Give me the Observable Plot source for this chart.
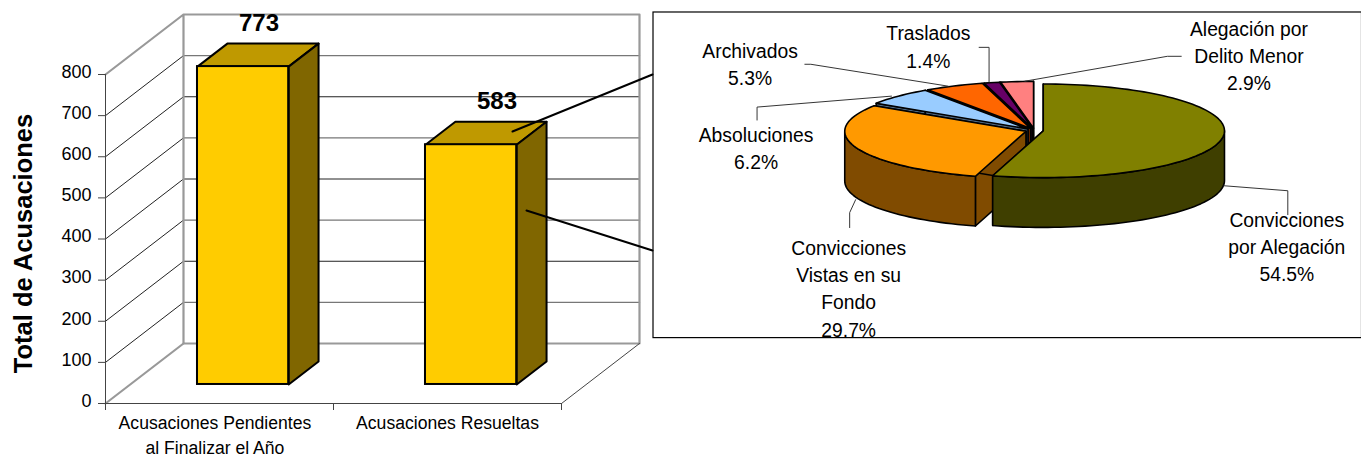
<!DOCTYPE html>
<html><head><meta charset="utf-8">
<script src="https://cdn.jsdelivr.net/npm/d3@7"></script>
<script src="https://cdn.jsdelivr.net/npm/@observablehq/plot@0.6"></script>
<style>
html,body{margin:0;padding:0;background:#fff;overflow:hidden;width:1361px;height:455px}
#bars,#pie{position:absolute}
#bars{left:0;top:0}
#pie{left:652px;top:11px}
svg{display:block}
</style></head><body>
<div id="bars"></div><div id="pie"></div>
<script>
// ---- data ----
const categories = ["Acusaciones Pendientes\nal Finalizar el Año", "Acusaciones Resueltas"];
const totals = [773, 583];
const yTicks = [0,100,200,300,400,500,600,700,800];
const yTitle = "Total de Acusaciones";
const sliceNames = ["Convicciones\npor Alegación","Convicciones\nVistas en su\nFondo","Absoluciones","Archivados","Traslados","Alegación por\nDelito Menor"];
const sliceShares = [54.5,29.7,6.2,5.3,1.4,2.9];

// ---- layout & style ----
const FONT = '"Liberation Sans", Arial, sans-serif';
const barTop="#BF9900", barFront="#FFCC00", barSide="#806600";
const sliceTop=["#808000","#FF9900","#99CCFF","#FF6600","#660066","#FF8080"];
const sliceWall=["#3F3F00","#804B00","#4C6680","#803300","#330033","#804040"];
// bar chart frame: pixels of the front floor and 800 level
const L=105,R=561,F=403,T=74, pxU=(R-L)/2, pxV=(F-T)/800;
const U=px=>(px-L)/pxU, V=py=>(F-py)/pxV;
const depthU=78/pxU, depthV=60/pxV;
const P=(u,v,d=0)=>[u+d*depthU, v+d*depthV];
const d0=.317,d1=.70, bw0=.295,bw1=.695;
const labelDx=[1,11];

const poly=(pts,o)=>Plot.line([...pts,pts[0]],{x:d=>d[0],y:d=>d[1],...o});
const seg=(pts,stroke,w)=>Plot.line(pts,{x:d=>d[0],y:d=>d[1],stroke,strokeWidth:w});

const barMarks=[];
// walls and grid
yTicks.slice(1,-1).forEach(v=>{
  const even=(v/100)%2===0;
  barMarks.push(seg([P(0,v,1),P(2,v,1)], even?"#222":"#777", even?1:1.4));
});
yTicks.slice(1,-1).forEach(v=>barMarks.push(seg([P(0,v,0),P(0,v,1)],"#222",1)));
barMarks.push(seg([P(0,800,0),P(0,800,1),P(2,800,1),P(2,0,1),P(0,0,1),P(0,800,1)],"#999",2.2));
barMarks.push(seg([P(0,0,0),P(0,0,1)],"#999",2.2));
barMarks.push(seg([P(0,800,0),P(0,0,0),P(2,0,0),P(2,0,1)],"#444",1));
// x ticks
barMarks.push(Plot.ruleX([0,1,2],{y1:0,y2:V(F+7),stroke:"#444"}));
// bars
totals.forEach((v,i)=>{
  const a=i+bw0,b=i+bw1;
  barMarks.push(poly([P(a,v,d0),P(b,v,d0),P(b,v,d1),P(a,v,d1)],{fill:barTop,stroke:"#000",strokeWidth:2}));
  barMarks.push(poly([P(b,0,d0),P(b,0,d1),P(b,v,d1),P(b,v,d0)],{fill:barSide,stroke:"#000",strokeWidth:2}));
});
barMarks.push(Plot.rect(totals,{
  x1:(d,i)=>P(i+bw0,0,d0)[0], x2:(d,i)=>P(i+bw1,0,d0)[0],
  y1:()=>P(0,0,d0)[1], y2:d=>P(0,d,d0)[1], fill:barFront, stroke:"#000", strokeWidth:2}));
// value labels
barMarks.push(Plot.text(totals,{
  x:(d,i)=>P(i+(bw0+bw1)/2,d,(d0+d1)/2)[0]+labelDx[i]/pxU, y:d=>P(0,d,(d0+d1)/2)[1],
  text:d=>String(d), fontSize:24, fontWeight:"bold", fill:"#000", dy:-32}));
// connectors to pie box
barMarks.push(seg([[U(512),V(131)],[U(652),V(74)]],"#000",2));
barMarks.push(seg([[U(526),V(210)],[U(652),V(250)]],"#000",2));
// axes
barMarks.push(Plot.axisY({ticks:yTicks,tickSize:7,tickFormat:()=>"",label:null,stroke:"#444"}));
barMarks.push(Plot.axisY({ticks:yTicks,tickSize:0,tickPadding:14,dy:-2.5,label:null,fontSize:18,fill:"#000"}));
barMarks.push(Plot.text(categories,{x:(d,i)=>i+.5-(i?0:.02),y:()=>V(411),text:d=>d,fontSize:17.6,lineHeight:1.4,fill:"#000",
  lineAnchor:"top"}));
barMarks.push(Plot.text([yTitle],{x:()=>U(23),y:()=>V(243),text:d=>d,rotate:-90,fontSize:25.5,fontWeight:"bold",fill:"#000"}));

const barChart=Plot.plot({width:1361,height:455,marginLeft:L,marginRight:1361-R,marginTop:T,marginBottom:455-F,
  style:{fontFamily:FONT,background:"transparent",overflow:"visible"},
  x:{domain:[0,2],axis:null},y:{domain:[0,800],axis:null},marks:barMarks});
document.getElementById("bars").append(barChart);

// ---- pie ----
const ox=652,oy=11,cx=1035.5-ox,cy=130.5-oy,rx=182,ry=47;
const X=px=>(px-ox-cx)/rx, Y=py=>-(py-oy-cy)/ry;
const wall=50/ry, explode=9/rx;
const rad=a=>a*Math.PI/180;
let acc=0;
const slices=sliceShares.map((s,i)=>{const a0=acc;acc+=s*3.6;return{i,a0,a1:acc,mid:(a0+acc)/2};});
const arcPts=(a0,a1,ax,ay,drop=0)=>{
  const n=Math.max(2,Math.ceil(Math.abs(a1-a0)/2)),out=[];
  for(let k=0;k<=n;k++){const a=rad(a0+(a1-a0)*k/n);out.push([ax+Math.sin(a),ay+Math.cos(a)-drop]);}
  return out;
};
const pieMarks=[Plot.frame({stroke:"#000",strokeWidth:1.2})];
[5,4,3,2,1,0].forEach(idx=>{
  const s=slices[idx];
  const ax=explode*Math.sin(rad(s.mid)), ay=explode*Math.cos(rad(s.mid));
  const w=sliceWall[idx], st={stroke:"#000",strokeWidth:1.6,strokeLinejoin:"round"};
  for(const a of [s.a0,s.a1]){
    const [r]=arcPts(a,a,ax,ay);
    pieMarks.push(poly([[ax,ay],r,[r[0],r[1]-wall],[ax,ay-wall]],{fill:w,...st}));
  }
  const lo=Math.max(s.a0,90),hi=Math.min(s.a1,270);
  if(hi>lo){
    pieMarks.push(poly([...arcPts(lo,hi,ax,ay),...arcPts(hi,lo,ax,ay,wall)],{fill:w,...st}));
  }
  pieMarks.push(poly([[ax,ay],...arcPts(s.a0,s.a1,ax,ay)],{fill:sliceTop[idx],...st}));
});
// leaders
const leaders=[
  [[1226,186],[1290,191],[1290,215]],
  [[856,200],[850,213],[850,228]],
  [[892,96],[757,107],[757,120]],
  [[949,86],[811,64],[805,64]],
  [[990,82],[990,47],[980,47]],
  [[1026,81],[1169,56],[1183,56]]
];
leaders.forEach(l=>pieMarks.push(seg(l.map(p=>[X(p[0]),Y(p[1])]),"#333",1)));
// labels
const labelPos=[[1289,246],[849,288],[756,147],[750,63],[929,45],[1251,54]];
pieMarks.push(Plot.text(sliceNames,{
  x:(d,i)=>X(labelPos[i][0]), y:(d,i)=>Y(labelPos[i][1]),
  text:(d,i)=>d+"\n"+d3.format(".1f")(sliceShares[i])+"%",
  fontSize:19.4,lineHeight:1.4,fill:"#000",lineAnchor:"middle"}));

const pieChart=Plot.plot({width:712,height:328,margin:0,marginLeft:.5,marginTop:.5,marginBottom:.5,marginRight:0,
  style:{fontFamily:FONT,background:"transparent",overflow:"visible"},
  x:{domain:[-1,1],range:[cx-rx,cx+rx],axis:null},
  y:{domain:[-1,1],range:[cy+ry,cy-ry],axis:null},
  marks:pieMarks});
document.getElementById("pie").append(pieChart);
</script></body></html>
